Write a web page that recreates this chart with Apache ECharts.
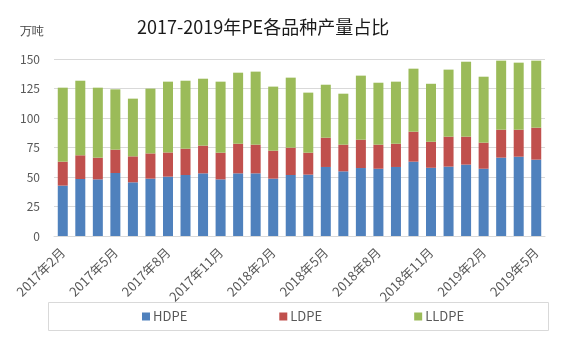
<!DOCTYPE html>
<html><head><meta charset="utf-8">
<script src="https://cdn.jsdelivr.net/npm/echarts@6/dist/echarts.min.js"></script>
<style>html,body{margin:0;padding:0;background:#fff}#c{width:567px;height:340px}</style>
</head><body><div id="c"></div>
<script>
const categories = ['2017年2月','2017年3月','2017年4月','2017年5月','2017年6月','2017年7月','2017年8月','2017年9月','2017年10月','2017年11月','2017年12月','2018年1月','2018年2月','2018年3月','2018年4月','2018年5月','2018年6月','2018年7月','2018年8月','2018年9月','2018年10月','2018年11月','2018年12月','2019年1月','2019年2月','2019年3月','2019年4月','2019年5月'];
const hdpe = [42.7,48.3,48,53.4,45.5,48.6,50.3,51.7,53.1,48,53.1,53.1,48.6,51.7,52,58.5,54.8,57.6,57,58.5,63,57.8,58.8,60.5,57,66.4,67.2,64.7];
const ldpe = [20.3,20.1,18.4,19.8,22,21.4,20.5,22.3,23.5,22.6,25.1,24.3,23.7,23.2,18.6,24.8,22.6,24,20.4,19.7,25.4,22.1,25.4,23.7,22.1,23.7,22.9,27.1];
const lldpe = [62.7,63.2,59.3,51.1,48.9,54.9,60,57.6,56.7,60.2,60.2,61.9,54.3,59.3,50.9,44.9,43.2,54.3,52.5,52.6,53.4,49.1,56.8,63.5,55.9,58.5,56.8,56.8];
const seriesNames = ['HDPE','LDPE','LLDPE'];
const colors = ['#4f81bd','#c0504d','#9bbb59'];
const font = '"Noto Sans CJK SC", "Microsoft YaHei", sans-serif';

const chart = echarts.init(document.getElementById('c'), null, {renderer:'canvas'});
const mk = (name, data, i) => ({
  name, type:'bar', stack:'pe', data, barWidth:10,
  itemStyle:{color:colors[i]}
});
chart.setOption({
  animation:false,
  textStyle:{fontFamily:font},
  title:{text:'2017-2019年PE各品种产量占比', left:132, top:13,
    textStyle:{fontSize:18, fontWeight:'normal', color:'#1a1a1a', fontFamily:font}},
  graphic:[
    {type:'text', left:20, top:26, style:{text:'万吨', fontSize:12, fill:'#404040', font:'12px ' + font}},
    {type:'rect', shape:{x:48.5, y:302.5, width:500, height:28}, style:{fill:'none', stroke:'#d9d9d9', lineWidth:1}, z:-1}
  ],
  legend:{data:seriesNames, left:137, top:305, itemWidth:8, itemHeight:8, itemGap:92,
    icon:'rect', textStyle:{fontSize:13, color:'#595959', fontFamily:font, padding:[0,0,0,-2]}},
  grid:{left:54, right:22, top:59, bottom:104},
  xAxis:{type:'category', data:categories,
    axisLine:{lineStyle:{color:'#d9d9d9'}}, axisTick:{show:false},
    axisLabel:{interval:2, rotate:45, fontSize:13, color:'#595959', margin:14, fontFamily:font}},
  yAxis:{type:'value', min:0, max:150, interval:25,
    axisLine:{show:false}, axisTick:{show:false},
    splitLine:{lineStyle:{color:'#d9d9d9'}},
    axisLabel:{fontSize:12, color:'#595959', margin:14, fontFamily:font}},
  series:[mk('HDPE',hdpe,0), mk('LDPE',ldpe,1), mk('LLDPE',lldpe,2)]
});
</script></body></html>
